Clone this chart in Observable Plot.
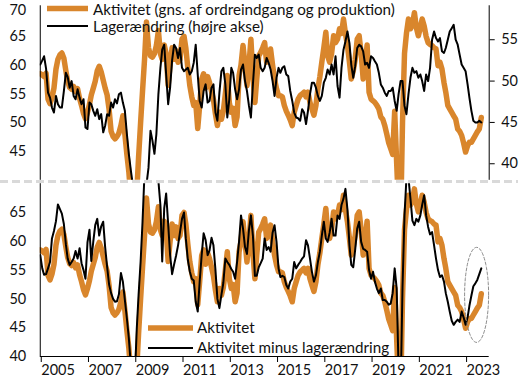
<!DOCTYPE html>
<html><head><meta charset="utf-8">
<script src="https://cdn.jsdelivr.net/npm/d3@7"></script>
<script src="https://cdn.jsdelivr.net/npm/@observablehq/plot@0.6"></script>
<style>
body{margin:0;background:#fff;}
#wrap{position:relative;width:531px;height:378px;overflow:hidden;font-family:Lato,sans-serif;}
#wrap > svg{position:absolute;left:0;}
</style></head><body><div id="wrap"></div>
<script>
// Monthly values from Jan 2005 to Sep 2023
const aktivitet = [
58.5,58.3,58.0,58.6,54.1,53.3,54.3,56.0,59.3,61.0,61.8,62.1,
61.2,59.0,57.2,56.1,55.8,56.3,55.4,55.9,54.2,53.0,51.6,50.7,
51.8,53.2,54.8,56.0,57.2,59.0,59.8,58.8,57.4,56.0,54.8,52.3,
48.5,47.6,47.2,47.6,48.2,49.5,51.2,48.0,44.5,41.5,37.0,34.0,
33.0,38.0,44.0,50.0,55.5,61.0,67.5,63.0,61.6,61.4,62.0,63.4,
66.0,62.0,61.0,63.5,62.0,56.5,60.0,63.0,61.0,62.5,60.5,61.0,
64.5,65.0,63.0,59.5,56.5,54.5,53.0,53.5,49.0,53.0,57.5,58.5,
56.0,58.0,57.0,55.5,54.0,51.5,49.5,51.8,50.6,52.0,55.0,58.2,
53.5,51.8,52.5,49.5,51.0,58.2,60.0,63.4,60.0,56.4,60.0,64.5,
58.0,53.5,57.6,61.6,62.2,63.0,63.9,60.5,61.5,62.8,60.0,57.6,
55.9,54.7,54.7,54.5,53.0,52.0,51.3,50.5,49.5,51.8,53.0,54.1,
54.7,55.0,55.3,54.5,55.3,53.5,52.4,51.3,53.0,55.9,58.0,60.5,
63.0,65.7,61.6,60.5,62.0,65.1,63.9,64.5,66.3,65.5,68.0,65.5,
63.4,60.5,57.6,59.0,61.0,64.5,65.1,62.0,57.6,60.0,63.5,55.3,
54.1,53.8,53.5,53.0,52.4,51.0,50.6,49.5,48.0,46.5,45.5,44.5,
52.0,43.0,35.0,32.0,50.0,62.0,65.5,68.0,66.3,67.0,69.1,66.5,
65.1,66.5,68.0,66.8,65.0,63.9,63.6,63.4,63.0,62.8,59.9,60.5,
59.3,57.0,55.3,53.0,52.4,51.8,51.2,50.6,48.9,48.5,47.8,46.5,
44.9,46.0,46.6,46.6,47.2,47.8,48.4,48.9,50.9];
const lagerandring = [
52.0,52.5,53.0,51.5,48.6,48.0,46.8,46.2,48.2,47.2,46.8,46.8,
48.8,51.0,50.5,49.2,50.0,48.2,47.8,49.0,48.0,47.2,47.8,44.4,
44.2,47.4,47.2,46.4,45.8,46.6,45.4,46.0,43.8,44.6,46.0,45.8,
47.4,46.8,47.8,47.3,48.4,48.6,47.4,46.4,43.6,41.2,39.2,37.5,
36.0,35.5,35.5,36.0,36.5,37.0,37.5,39.5,44.0,42.8,41.2,43.6,
48.4,51.6,53.8,54.4,50.8,47.2,49.2,52.5,54.4,54.0,52.8,54.0,
51.6,51.2,51.4,51.6,50.8,51.2,52.2,54.4,50.8,47.6,46.8,48.8,
49.6,47.4,47.6,49.2,49.6,46.2,45.2,48.6,51.2,51.6,49.6,45.6,
47.8,51.6,51.0,49.0,47.8,49.0,51.4,52.0,50.0,48.8,47.0,45.6,
49.6,53.2,52.8,53.2,51.6,51.2,51.6,52.8,52.2,51.4,50.0,48.2,
50.4,51.6,51.0,51.6,51.8,50.8,50.6,48.8,47.6,46.2,45.6,45.5,
45.2,46.6,46.2,44.8,46.4,48.4,49.8,49.8,49.2,48.2,47.6,48.2,
49.8,50.4,51.4,50.8,52.0,50.8,53.0,49.4,48.0,51.6,53.8,54.8,
56.0,54.6,52.0,50.4,51.8,54.0,54.4,54.2,53.6,52.0,52.2,51.6,
53.0,52.8,52.4,52.0,51.0,49.6,49.2,48.6,48.2,48.8,48.8,49.2,
47.6,46.4,48.4,50.0,50.0,47.0,46.0,48.4,50.4,51.6,51.0,51.2,
50.4,50.8,50.0,48.8,50.8,50.0,51.6,55.0,56.0,55.2,54.8,55.2,
53.6,53.4,54.0,55.0,56.0,56.4,56.8,55.0,54.4,53.2,52.0,51.6,
51.2,49.6,48.0,46.4,45.2,45.0,45.0,45.2,45.0];
const aktivitetMinusLager = [
57.6,55.3,54.2,54.3,55.3,56.4,60.5,61.8,63.5,66.4,65.6,64.8,
63.0,59.5,57.0,55.9,56.4,57.0,58.3,57.0,58.8,56.2,55.0,53.5,
59.8,62.0,56.6,60.0,62.8,63.9,61.0,62.6,63.4,59.0,55.5,52.5,
51.0,50.0,49.5,49.6,50.8,54.5,53.0,49.8,46.6,43.2,38.5,33.0,
36.0,44.9,50.7,56.4,63.4,72.0,76.0,78.0,75.0,76.0,76.0,74.0,
70.5,66.3,56.5,65.7,68.3,63.0,57.6,54.3,56.0,57.5,59.3,61.6,
63.9,65.0,60.5,56.8,54.8,53.5,53.2,49.5,47.8,53.0,57.6,61.4,
60.2,57.6,58.4,60.6,59.3,55.0,50.0,48.4,50.7,52.8,57.0,56.4,
55.9,55.2,54.7,53.5,56.4,60.0,64.5,62.2,59.0,57.8,62.0,64.5,
61.0,54.0,54.0,55.5,56.2,57.0,60.5,58.5,59.0,58.2,61.5,62.8,
59.9,55.3,53.8,54.0,53.8,52.4,51.8,53.0,53.5,56.4,55.3,55.9,
56.4,57.0,57.4,60.2,59.3,57.0,54.7,53.0,54.1,56.4,58.2,61.0,
63.4,60.5,59.9,61.5,63.9,61.0,61.0,64.5,63.9,66.3,67.4,69.1,
65.5,59.3,55.9,55.5,58.6,62.2,63.4,59.9,58.7,58.5,58.2,55.0,
53.5,54.7,53.0,51.8,51.0,51.8,49.8,49.8,49.5,49.0,49.2,51.0,
55.3,51.8,38.0,33.0,52.0,64.5,71.0,71.0,67.4,63.6,62.8,63.9,
63.4,64.5,66.3,68.0,64.5,62.5,61.2,61.6,59.3,57.0,55.0,53.8,
54.1,53.0,51.0,49.5,47.8,46.2,45.5,46.0,46.4,46.0,47.8,46.8,
45.5,46.8,48.8,50.6,52.2,52.7,53.3,54.3,55.3];

const leftTicksTop = [45, 50, 55, 60, 65];
const leftTopMax = [70];
const rightTicks = [40, 45, 50, 55];
const leftTicksBottom = [40, 45, 50, 55, 60, 65];
const yearTicks = [2005, 2007, 2009, 2011, 2013, 2015, 2017, 2019, 2021, 2023];
const legendTop = ["Aktivitet (gns. af ordreindgang og produktion)", "Lagerændring (højre akse)"];
const legendBottom = ["Aktivitet", "Aktivitet minus lagerændring"];
// annotation ellipse (data space): centre month index, value, radii
const ellipseSpec = {month: 221.6, value: 50.7, rMonths: 6.1, rValue: 8.25};

const ORANGE = "#d9862c";
const RMIN = 38, RMAX = 58.9; // right axis domain mapped onto left 40..70
const toL = r => 40 + (r - RMIN) * 30 / (RMAX - RMIN);
const fromL = l => Math.round(RMIN + (l - 40) * (RMAX - RMIN) / 30);

const T0 = Date.UTC(2005, 0, 1), T1 = Date.UTC(2024, 0, 1);
const monthDate = i => new Date(Date.UTC(2005, i, 1));
const fracDate = m => new Date(T0 + m * (T1 - T0) / 228);
const rows = aktivitet.map((v, i) => ({date: monthDate(i), akt: v, lag: lagerandring[i], aml: aktivitetMinusLager[i]}));
const ell = d3.range(0, 361, 5).map(a => ({
  date: fracDate(ellipseSpec.month + ellipseSpec.rMonths * Math.cos(a * Math.PI / 180)),
  v: ellipseSpec.value + ellipseSpec.rValue * Math.sin(a * Math.PI / 180)
}));

const style = {background: "transparent", fontFamily: "Lato, sans-serif", fontSize: "14.5px", color: "#111", overflow: "visible"};
const common = {width: 531, marginLeft: 39.75, marginRight: 42.3, style,
  x: {type: "utc", domain: [new Date(T0), new Date(T1)], axis: null}};

const topPlot = Plot.plot({
  ...common, height: 181, marginTop: 7, marginBottom: 1.2,
  y: {domain: [40, 70], axis: null},
  marks: [
    Plot.line(rows, {x: "date", y: "akt", stroke: ORANGE, strokeWidth: 5.5, clip: true}),
    Plot.line(rows, {x: "date", y: d => toL(d.lag), stroke: "#000", strokeWidth: 2, clip: true}),
    Plot.ruleX([new Date(T0)], {y1: 40, y2: 70.3, stroke: "#000", strokeWidth: 1}),
    Plot.ruleX([new Date(T1)], {y1: 40, y2: 70.3, stroke: "#000", strokeWidth: 1}),
    Plot.axisY(leftTicksTop, {anchor: "left", tickSize: 0, tickPadding: 14, label: null}),
    Plot.axisY(leftTopMax, {anchor: "left", tickSize: 0, tickPadding: 14, label: null, dy: 2.5}),
    Plot.axisY(rightTicks.map(toL), {anchor: "right", tickSize: 5, tickPadding: 7, tickFormat: fromL, label: null, stroke: "#000"})
  ]
});
topPlot.style.top = "0px";

const bottomPlot = Plot.plot({
  ...common, height: 197, marginTop: 2.2, marginBottom: 22,
  y: {domain: [40, 70], axis: null},
  marks: [
    Plot.line(rows, {x: "date", y: "akt", stroke: ORANGE, strokeWidth: 5.5, clip: true}),
    Plot.line(rows, {x: "date", y: "aml", stroke: "#000", strokeWidth: 2, clip: true}),
    Plot.line(ell, {x: "date", y: "v", curve: "linear-closed", stroke: "#7f7f7f", strokeWidth: 0.9, strokeDasharray: "3,2"}),
    Plot.ruleX([new Date(T0)], {y1: 40, y2: 70, stroke: "#000", strokeWidth: 1}),
    Plot.ruleY([40], {stroke: "#000", strokeWidth: 1}),
    Plot.axisY(leftTicksBottom, {anchor: "left", tickSize: 0, tickPadding: 14, label: null}),
    Plot.axisX(yearTicks.map(y => new Date(Date.UTC(y, 0, 1))), {anchor: "bottom", tickSize: 6, tickPadding: 2.3, textAnchor: "start", dx: 1, tickFormat: d => String(d.getUTCFullYear()), label: null, stroke: "#000"})
  ]
});
bottomPlot.style.top = "181px";

const wrap = document.getElementById("wrap");
wrap.appendChild(topPlot);
wrap.appendChild(bottomPlot);

// overlay: separator and legends
const ns = "http://www.w3.org/2000/svg";
const ov = document.createElementNS(ns, "svg");
ov.setAttribute("width", 531); ov.setAttribute("height", 378);
ov.style.top = "0px";
ov.style.fontFamily = "Lato, sans-serif";
function el(tag, attrs, text) {
  const e = document.createElementNS(ns, tag);
  for (const k in attrs) e.setAttribute(k, attrs[k]);
  if (text != null) e.textContent = text;
  ov.appendChild(e);
  return e;
}
el("line", {x1: 0, x2: 518, y1: 181.5, y2: 181.5, stroke: "#d9d9d9", "stroke-width": 3, "stroke-dasharray": "8,4"});
const legItems = [
  {label: legendTop[0], color: ORANGE, w: 5.5, x1: 47, x2: 88, y: 8.5, tx: 93, base: 15},
  {label: legendTop[1], color: "#000", w: 2, x1: 47, x2: 88, y: 26, tx: 93, base: 31.5},
  {label: legendBottom[0], color: ORANGE, w: 5.5, x1: 148, x2: 193, y: 328, tx: 197, base: 333},
  {label: legendBottom[1], color: "#000", w: 2, x1: 148, x2: 193, y: 348, tx: 197, base: 353}
];
for (const it of legItems) {
  el("line", {x1: it.x1, x2: it.x2, y1: it.y, y2: it.y, stroke: it.color, "stroke-width": it.w});
  el("text", {x: it.tx, y: it.base, "font-size": 15.2, fill: "#111"}, it.label);
}
wrap.appendChild(ov);
</script></body></html>
